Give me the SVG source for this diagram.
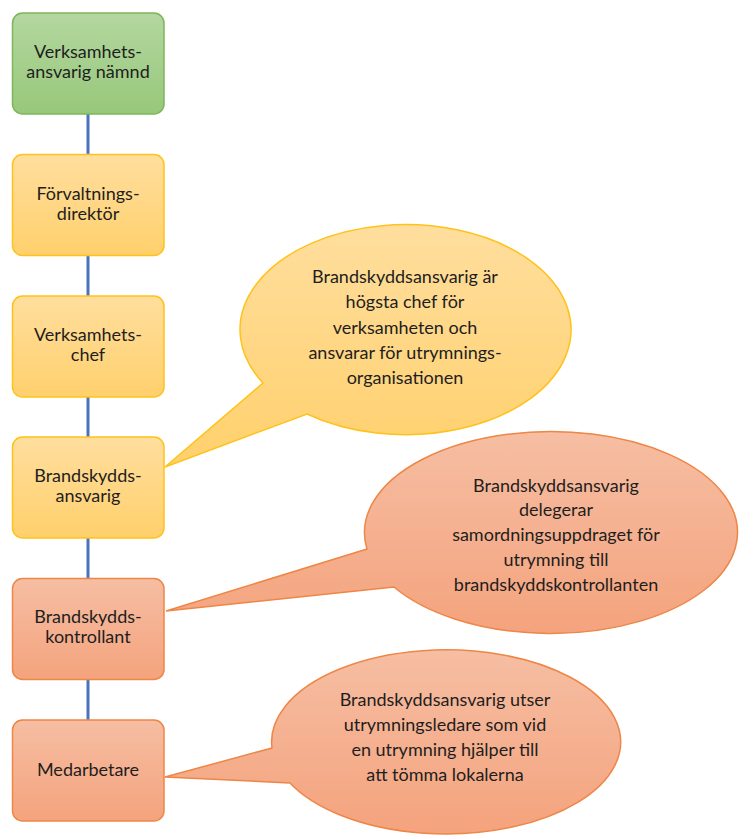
<svg xmlns="http://www.w3.org/2000/svg" width="739" height="836" viewBox="0 0 739 836">
  <defs>
    <linearGradient id="gGreen" x1="0" y1="0" x2="0" y2="1">
      <stop offset="0" stop-color="#B4D7A0"/>
      <stop offset="1" stop-color="#97C87A"/>
    </linearGradient>
    <linearGradient id="gYellow" x1="0" y1="0" x2="0" y2="1">
      <stop offset="0" stop-color="#FFDE9E"/>
      <stop offset="1" stop-color="#FFD06C"/>
    </linearGradient>
    <linearGradient id="gOrange" x1="0" y1="0" x2="0" y2="1">
      <stop offset="0" stop-color="#F6BEA3"/>
      <stop offset="1" stop-color="#F4A37D"/>
    </linearGradient>
  </defs>
  <style>
    .box { stroke-width: 1.5; }
    .green { fill: url(#gGreen); stroke: #7DB659; }
    .yellow { fill: url(#gYellow); stroke: #FFC21A; }
    .orange { fill: url(#gOrange); stroke: #EE8646; }
    .conn { stroke: #4A72BD; stroke-width: 3; fill: none; }
    text { font-family: Lato, "Liberation Sans", sans-serif; font-size: 18px; fill: #1e1e1e; text-anchor: middle; }
  </style>

  <g id="connectors">
    <line class="conn" x1="88" y1="114" x2="88" y2="154.5"/>
    <line class="conn" x1="88" y1="255.5" x2="88" y2="296"/>
    <line class="conn" x1="88" y1="397" x2="88" y2="437"/>
    <line class="conn" x1="88" y1="538" x2="88" y2="578.5"/>
    <line class="conn" x1="88" y1="679.5" x2="88" y2="720"/>
  </g>

  <g id="node-namnd">
    <rect class="box green" x="12.5" y="13" width="151.5" height="101" rx="10"/>
    <text x="88" y="58">Verksamhets-</text>
    <text x="88" y="78">ansvarig nämnd</text>
  </g>
  <g id="node-forvaltningsdirektor">
    <rect class="box yellow" x="12.5" y="154.5" width="151.5" height="101" rx="10"/>
    <text x="88" y="199.5">Förvaltnings-</text>
    <text x="88" y="219.5">direktör</text>
  </g>
  <g id="node-verksamhetschef">
    <rect class="box yellow" x="12.5" y="296" width="151.5" height="101" rx="10"/>
    <text x="88" y="341">Verksamhets-</text>
    <text x="88" y="361">chef</text>
  </g>
  <g id="node-brandskyddsansvarig">
    <rect class="box yellow" x="12.5" y="437" width="151.5" height="101" rx="10"/>
    <text x="88" y="481.5">Brandskydds-</text>
    <text x="88" y="501.5">ansvarig</text>
  </g>
  <g id="node-brandskyddskontrollant">
    <rect class="box orange" x="12.5" y="578.5" width="151.5" height="101" rx="10"/>
    <text x="88" y="623">Brandskydds-</text>
    <text x="88" y="643">kontrollant</text>
  </g>
  <g id="node-medarbetare">
    <rect class="box orange" x="12.5" y="720" width="151.5" height="101" rx="10"/>
    <text x="88" y="776">Medarbetare</text>
  </g>

  <g id="callout-1">
    <path class="box yellow" d="M 263 383 L 165 467 L 307 414 A 165.5 105 0 1 0 263 383 Z"/>
    <text x="405" y="283">Brandskyddsansvarig är</text>
    <text x="405" y="308">högsta chef för</text>
    <text x="405" y="333.5">verksamheten och</text>
    <text x="405" y="359">ansvarar för utrymnings-</text>
    <text x="405" y="384">organisationen</text>
  </g>
  <g id="callout-2">
    <path class="box orange" d="M 367 549 L 166 611 L 394 587 A 186.5 101 0 1 0 367 549 Z"/>
    <text x="556" y="491.5">Brandskyddsansvarig</text>
    <text x="556" y="516">delegerar</text>
    <text x="556" y="541">samordningsuppdraget för</text>
    <text x="556" y="566">utrymning till</text>
    <text x="556" y="591">brandskyddskontrollanten</text>
  </g>
  <g id="callout-3">
    <path class="box orange" d="M 272 748 L 165 777 L 290 783 A 174.5 92 0 1 0 272 748 Z"/>
    <text x="445" y="706">Brandskyddsansvarig utser</text>
    <text x="445" y="731">utrymningsledare som vid</text>
    <text x="445" y="756">en utrymning hjälper till</text>
    <text x="445" y="781">att tömma lokalerna</text>
  </g>
</svg>
